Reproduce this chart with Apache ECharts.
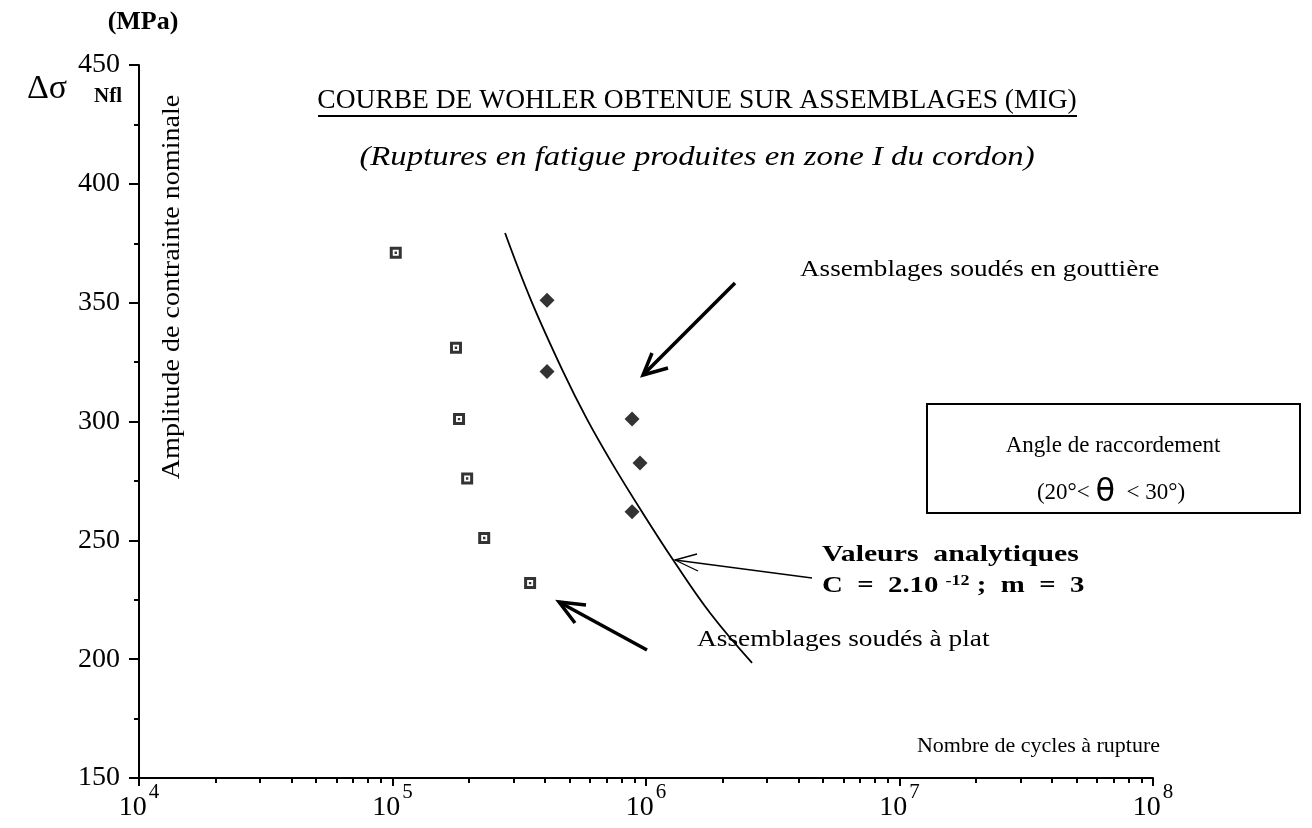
<!DOCTYPE html>
<html>
<head>
    <meta charset="utf-8">
    <title>Courbe de Wohler</title>
    <script src="https://cdn.jsdelivr.net/npm/echarts@6/dist/echarts.min.js"></script>
</head>
<body style="margin:0;background:#fff;">
    <div id="main" style="width:1312px;height:828px;"></div>
    <script type="text/javascript">
        var myChart = echarts.init(document.getElementById('main'));
        var SERIF = '"Liberation Serif", "Times New Roman", serif';

        // assemblages soudés à plat (carrés)
        var platN = [1.03e5, 1.78e5, 1.83e5, 1.97e5, 2.30e5, 3.49e5];
        var platS = [371, 331, 301, 276, 251, 232];
        // assemblages soudés en gouttière (losanges)
        var gouttN = [4.07e5, 4.07e5, 8.81e5, 9.47e5, 8.81e5];
        var gouttS = [351, 321, 301, 282.5, 262];
        // valeurs analytiques (courbe)
        var courbeN = [2.78e5, 3.52e5, 4.71e5, 5.85e5, 7.34e5, 9.64e5, 1.28e6, 1.79e6, 2.62e6];
        var courbeS = [379.3, 351, 321, 301, 282.5, 262, 241.7, 219.4, 198.4];

        var yTicks = [150, 200, 250, 300, 350, 400, 450];
        var xDecades = [4, 5, 6, 7, 8];

        // ticks mineurs du log : 2..9 x 10^k
        var xMinor = [];
        for (var k = 4; k < 8; k++) {
            for (var m = 2; m <= 9; m++) xMinor.push(m * Math.pow(10, k));
        }

        function pairs(xs, ys) {
            return xs.map(function (x, i) { return [x, ys[i]]; });
        }

        function txt(x, y, text, font, align, sx) {
            return {
                type: 'text', x: x, y: y, scaleX: sx || 1,
                style: { text: text, font: font + ' ' + SERIF, fill: '#000', textAlign: align || 'left', textVerticalAlign: 'middle' }
            };
        }

        // carré avec point central
        var squareDot = 'path://M0,0H14V14H0Z M3.5,3.5V10.5H10.5V3.5Z M5.6,5.6H8.4V8.4H5.6Z';

        var option = {
            backgroundColor: '#fff',
            animation: false,
            grid: { left: 139, top: 65, width: 1014, height: 713 },
            xAxis: [{
                type: 'log',
                logBase: 10,
                min: Math.pow(10, xDecades[0]),
                max: Math.pow(10, xDecades[xDecades.length - 1]),
                splitLine: { show: false },
                axisLine: { lineStyle: { color: '#000', width: 2 } },
                axisTick: { length: 8, lineStyle: { color: '#000', width: 2 } },
                axisLabel: {
                    margin: 4,
                    color: '#000',
                    formatter: function (v) {
                        return '{b|10}{s|' + Math.round(Math.log10(v)) + '}';
                    },
                    rich: {
                        b: { fontFamily: SERIF, fontSize: 28, color: '#000', padding: [12, 0, 0, 0] },
                        s: { fontFamily: SERIF, fontSize: 21, color: '#000', verticalAlign: 'top', padding: [0, 0, 0, 2] }
                    }
                }
            }, {
                type: 'log',
                logBase: 10,
                min: Math.pow(10, xDecades[0]),
                max: Math.pow(10, xDecades[xDecades.length - 1]),
                position: 'bottom',
                splitLine: { show: false },
                axisLine: { show: false },
                axisLabel: { show: false },
                axisTick: { length: 5, customValues: xMinor, lineStyle: { color: '#000', width: 2 } }
            }],
            yAxis: {
                type: 'value',
                min: yTicks[0],
                max: yTicks[yTicks.length - 1],
                interval: 50,
                splitLine: { show: false },
                axisLine: { show: true, lineStyle: { color: '#000', width: 2 } },
                axisTick: { show: true, length: 10, lineStyle: { color: '#000', width: 2 } },
                minorTick: { show: true, splitNumber: 2, length: 5, lineStyle: { color: '#000', width: 2 } },
                axisLabel: { margin: 19, color: '#000', fontFamily: SERIF, fontSize: 28 }
            },
            series: [{
                name: 'Valeurs analytiques',
                type: 'line',
                smooth: 0.4,
                showSymbol: false,
                data: pairs(courbeN, courbeS),
                lineStyle: { color: '#000', width: 1.8 }
            }, {
                name: 'Assemblages soudés à plat',
                type: 'scatter',
                symbol: squareDot,
                symbolSize: 12,
                itemStyle: { color: '#000' },
                data: pairs(platN, platS)
            }, {
                name: 'Assemblages soudés en gouttière',
                type: 'scatter',
                symbol: 'diamond',
                symbolSize: [15, 15],
                itemStyle: { color: '#000' },
                data: pairs(gouttN, gouttS)
            }],
            graphic: [
                txt(143, 22, '(MPa)', 'bold 26px', 'center'),
                txt(27, 89, 'Δσ', '34px'),
                txt(94, 97, 'Nfl', 'bold 21px'),
                {
                    type: 'text', x: 172, y: 287, rotation: Math.PI / 2, scaleX: 1.08,
                    style: { text: 'Amplitude de contrainte nominale', font: '26px ' + SERIF, fill: '#000', textAlign: 'center', textVerticalAlign: 'middle' }
                },
                txt(697, 101, 'COURBE DE WOHLER OBTENUE SUR ASSEMBLAGES (MIG)', '27.5px', 'center'),
                { type: 'line', shape: { x1: 318, y1: 116, x2: 1077, y2: 116 }, style: { stroke: '#000', lineWidth: 2 } },
                txt(697, 158, '(Ruptures en fatigue produites en zone I du cordon)', 'italic 28px', 'center', 1.17),
                txt(800, 270, 'Assemblages soudés en gouttière', '24px', 'left', 1.13),
                { type: 'polyline', shape: { points: [[735, 283], [643, 375]] }, style: { stroke: '#000', lineWidth: 3.5, fill: null } },
                { type: 'polyline', shape: { points: [[652, 353], [643, 375], [668, 368]] }, style: { stroke: '#000', lineWidth: 3.5, fill: null } },
                { type: 'rect', shape: { x: 927, y: 404, width: 373, height: 109 }, style: { stroke: '#000', lineWidth: 2, fill: null } },
                txt(1113, 446, 'Angle de raccordement', '23px', 'center'),
                {
                    type: 'text', x: 1111, y: 493,
                    style: {
                        text: '{a|(20°< }{t|θ}{a|  < 30°)}',
                        textAlign: 'center', textVerticalAlign: 'middle',
                        rich: {
                            a: { font: '23px ' + SERIF, fill: '#000' },
                            t: { font: '32px "DejaVu Sans", sans-serif', fill: '#000' }
                        }
                    }
                },
                txt(822, 555, 'Valeurs  analytiques', 'bold 24px', 'left', 1.24),
                {
                    type: 'text', x: 822, y: 586, scaleX: 1.2,
                    style: {
                        text: '{a|C  =  2.10 }{s|-12}{a| ;  m  =  3}',
                        textVerticalAlign: 'middle',
                        rich: {
                            a: { font: 'bold 24px ' + SERIF, fill: '#000' },
                            s: { font: 'bold 15px ' + SERIF, fill: '#000', verticalAlign: 'top' }
                        }
                    }
                },
                { type: 'polyline', shape: { points: [[812, 578], [675, 560]] }, style: { stroke: '#000', lineWidth: 1.3, fill: null } },
                { type: 'polyline', shape: { points: [[697, 554], [675, 560], [698, 571]] }, style: { stroke: '#000', lineWidth: 1.3, fill: null } },
                txt(697, 640, 'Assemblages soudés à plat', '24px', 'left', 1.14),
                { type: 'polyline', shape: { points: [[647, 650], [559, 602]] }, style: { stroke: '#000', lineWidth: 3.5, fill: null } },
                { type: 'polyline', shape: { points: [[586, 605], [559, 602], [575, 623]] }, style: { stroke: '#000', lineWidth: 3.5, fill: null } },
                txt(1160, 746, 'Nombre de cycles à rupture', '22px', 'right')
            ]
        };

        myChart.setOption(option);
    </script>
</body>
</html>
